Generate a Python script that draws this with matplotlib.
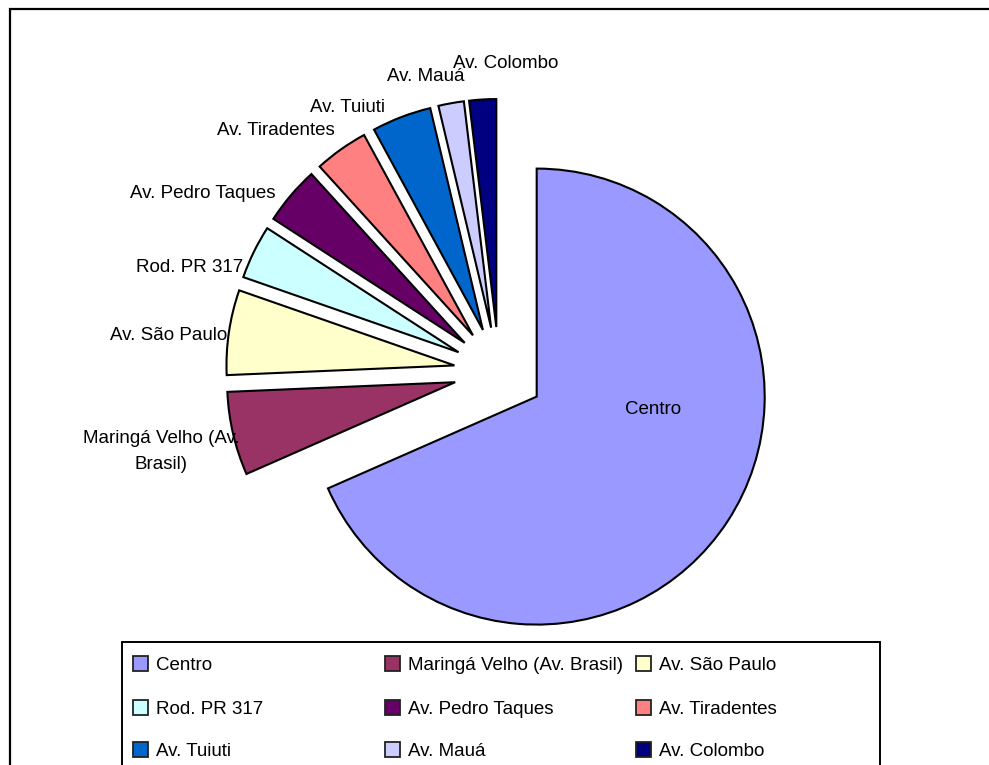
import numpy as np
import matplotlib
matplotlib.use("Agg")
import matplotlib.pyplot as plt
from matplotlib.patches import Rectangle

# dados (percentuais)
bairros = ['Centro', 'Maringá Velho (Av. Brasil)', 'Av. São Paulo', 'Rod. PR 317',
           'Av. Pedro Taques', 'Av. Tiradentes', 'Av. Tuiuti', 'Av. Mauá', 'Av. Colombo']
rotulos = ['Centro', 'Maringá Velho (Av.\nBrasil)', 'Av. São Paulo', 'Rod. PR 317',
           'Av. Pedro Taques', 'Av. Tiradentes', 'Av. Tuiuti', 'Av. Mauá', 'Av. Colombo']
valores = [68.2, 5.9, 6.0, 3.8, 4.1, 3.8, 4.2, 1.8, 1.9]

cores = ['#9999FF', '#993366', '#FFFFCC', '#CCFFFF', '#660066',
         '#FF8080', '#0066CC', '#CCCCFF', '#000080']

# layout em pixels (imagem 989x765, y medido de cima)
W, H = 989, 765
CX, CY = 499, 372
RAIO = 228
DESLOC = 45
# ajuste fino dos rotulos relativo ao ponto externo de cada fatia (px, y para baixo)
ajuste = [(-75, -112), (-72, 18), (-60, 3), (-64, 16), (-88, -2),
          (-65, -19), (-54, -10), (-25, -27), (23, -36)]

plt.rcParams['font.family'] = ['Liberation Sans', 'DejaVu Sans']
FS = 13.5

fig = plt.figure(figsize=(W / 100, H / 100), dpi=100)
ax = fig.add_axes([0, 0, 1, 1])

wedges, _ = ax.pie(valores, colors=cores, startangle=90, counterclock=False,
                   explode=[DESLOC] * len(valores), radius=RAIO,
                   center=(CX, H - CY),
                   wedgeprops=dict(edgecolor='black', linewidth=1.5))
ax.set_xlim(0, W)
ax.set_ylim(0, H)
ax.set_aspect('equal')
ax.axis('off')

# rotulos das fatias
for w, txt, (dx, dy) in zip(wedges, rotulos, ajuste):
    ang = np.deg2rad((w.theta1 + w.theta2) / 2)
    cx, cy = w.center
    px = cx + RAIO * np.cos(ang)
    py = cy + RAIO * np.sin(ang)
    ax.text(px + dx, py - dy, txt, ha='center', va='center', fontsize=FS,
            multialignment='center', linespacing=1.7, color='black')

# moldura externa
ax.add_patch(Rectangle((10, H - 1000), 1200, 1000 - 9, fill=False,
                       edgecolor='black', linewidth=1.6, clip_on=False))

# legenda desenhada a mao (3 colunas, preenchida por linha)
leg_esq, leg_top, leg_dir = 122, 642, 880
ax.add_patch(Rectangle((leg_esq, H - 900), leg_dir - leg_esq, 900 - leg_top,
                       fill=False, edgecolor='black', linewidth=1.4, clip_on=False))
col_x = [133, 385, 636]
lin_y = [664, 708, 750]
for i, (nome, cor) in enumerate(zip(bairros, cores)):
    x0 = col_x[i % 3]
    y0 = lin_y[i // 3]
    ax.add_patch(Rectangle((x0, H - y0 - 7), 15, 15, facecolor=cor,
                           edgecolor='#222222', linewidth=1.3))
    ax.text(x0 + 23, H - y0 - 1, nome, ha='left', va='center', fontsize=FS, color='black')

plt.savefig("out.png", dpi=100)
